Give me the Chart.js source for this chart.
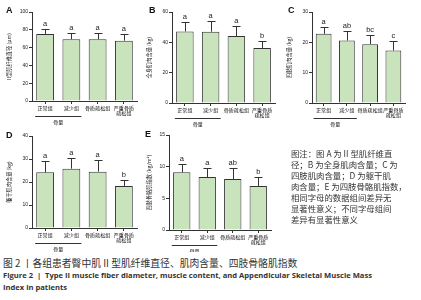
<!DOCTYPE html>
<html>
<head>
<meta charset="utf-8">
<script src="https://cdn.jsdelivr.net/npm/chart.js@4"></script>
<style>
  body { margin: 0; width: 421px; height: 300px; background: #fff; position: relative; overflow: hidden;
         font-family: 'Noto Sans CJK SC', sans-serif; color: #222; }
  canvas { position: absolute; }
  .tag { position: absolute; font: bold 9px 'Liberation Sans', Arial, sans-serif; color: #111; }
  .note { position: absolute; left: 291px; top: 148px; font-size: 8.4px; line-height: 11px; color: #333; white-space: nowrap; }
  .cap { position: absolute; left: 3px; white-space: nowrap; }
</style>
</head>
<body>
<canvas id="chartA"></canvas>
<canvas id="chartB"></canvas>
<canvas id="chartC"></canvas>
<canvas id="chartD"></canvas>
<canvas id="chartE"></canvas>

<div class="tag" style="left:6px;top:5px">A</div>
<div class="tag" style="left:149px;top:5px">B</div>
<div class="tag" style="left:288px;top:5px">C</div>
<div class="tag" style="left:6px;top:130px">D</div>
<div class="tag" style="left:145px;top:129px">E</div>

<div class="note">
  <div>图注：图 A 为 II 型肌纤维直</div>
  <div>径；B 为全身肌肉含量；C 为</div>
  <div>四肢肌肉含量；D 为躯干肌</div>
  <div>肉含量；E 为四肢骨骼肌指数，</div>
  <div>相同字母的数据组间差异无</div>
  <div>显著性意义；不同字母组间</div>
  <div>差异有显著性意义</div>
</div>

<div class="cap" style="top:256px;font-size:9.8px;color:#333">图 2 丨各组患者臀中肌 II 型肌纤维直径、肌肉含量、四肢骨骼肌指数</div>
<div class="cap" style="top:270px;font:bold 7.6px 'Open Sans',sans-serif;color:#333">Figure 2 &nbsp;|&nbsp; Type II muscle fiber diameter, muscle content, and Appendicular Skeletal Muscle Mass</div>
<div class="cap" style="top:282px;font:bold 7.6px 'Open Sans',sans-serif;color:#333">Index in patients</div>

<script>
// Groups (the first two share the "骨量" bracket underneath)
const groups = ['正常组', '减少组', '骨质疏松组', ['严重骨质', '疏松组']];

// A: type II muscle fiber diameter (μm)
const fiberMean = [75.3, 69.5, 69.5, 67.8];
const fiberSD = [5.5, 6.5, 6.5, 7.0];
const fiberLetters = ['a', 'a', 'a', 'a'];

// B: whole-body muscle content (kg)
const bodyMean = [47.2, 47.0, 44.2, 36.3];
const bodySD = [6.0, 7.0, 6.8, 4.3];
const bodyLetters = ['a', 'a', 'a', 'b'];

// C: limb muscle content (kg)
const limbMean = [22.8, 20.6, 19.4, 17.3];
const limbSD = [2.3, 3.1, 2.9, 3.0];
const limbLetters = ['a', 'ab', 'bc', 'c'];

// D: trunk muscle content (kg)
const trunkMean = [24.2, 25.8, 24.5, 18.3];
const trunkSD = [4.8, 4.5, 4.9, 2.5];
const trunkLetters = ['a', 'a', 'a', 'b'];

// E: appendicular skeletal muscle index (kg/m²)
const asmiMean = [9.1, 8.35, 8.05, 6.95];
const asmiSD = [1.3, 1.45, 1.7, 1.35];
const asmiLetters = ['a', 'a', 'ab', 'b'];

const BAR_FILL = '#c9e4bd';
const INK = '#333';

// Draws the upper error bar, significance letter and the "骨量" bracket
const errorBarPlugin = {
  id: 'errBars',
  afterDatasetsDraw(chart, args, opts) {
    const ctx = chart.ctx;
    const yScale = chart.scales.y;
    const bars = chart.getDatasetMeta(0).data;
    ctx.save();
    ctx.strokeStyle = INK;
    ctx.fillStyle = '#222';
    ctx.lineWidth = 1;
    ctx.textAlign = 'center';
    ctx.textBaseline = 'alphabetic';
    ctx.font = '7.5px "Liberation Sans", Arial, sans-serif';
    bars.forEach(function(bar, i) {
      const top = Math.round(yScale.getPixelForValue(opts.mean[i] + opts.sd[i])) + 0.5;
      const x = Math.round(bar.x) + 0.5;
      ctx.beginPath();
      ctx.moveTo(x, bar.y);
      ctx.lineTo(x, top);
      ctx.moveTo(x - 4, top);
      ctx.lineTo(x + 4, top);
      ctx.stroke();
      ctx.fillText(opts.letters[i], bar.x, top - 4);
    });

    // bracket under the first two groups
    const xScale = chart.scales.x;
    const x0 = xScale.getPixelForValue(0);
    const x1 = xScale.getPixelForValue(1);
    const yLine = Math.round(chart.chartArea.bottom + 15) + 0.5;
    ctx.beginPath();
    ctx.moveTo(x0 - 10, yLine);
    ctx.lineTo(x1 + 10, yLine);
    ctx.stroke();
    ctx.font = '5px "Noto Sans CJK SC", sans-serif';
    ctx.textBaseline = 'top';
    ctx.fillText('骨量', (x0 + x1) / 2, yLine + 3);
    ctx.restore();
  }
};

function makePanel(id, box, area, data, yMax, yStep, yTitle) {
  const canvas = document.getElementById(id);
  canvas.width = box.w;
  canvas.height = box.h;
  canvas.style.left = box.x + 'px';
  canvas.style.top = box.y + 'px';
  canvas.style.width = box.w + 'px';
  canvas.style.height = box.h + 'px';

  return new Chart(canvas.getContext('2d'), {
    type: 'bar',
    data: {
      labels: groups,
      datasets: [{
        data: data.mean,
        backgroundColor: BAR_FILL,
        borderColor: INK,
        borderWidth: 1,
        barPercentage: 0.68,
        categoryPercentage: 1
      }]
    },
    options: {
      responsive: false,
      animation: false,
      devicePixelRatio: 1,
      layout: { padding: { top: area.top, right: box.w - area.right, left: 0, bottom: 0 } },
      plugins: {
        legend: { display: false },
        tooltip: { enabled: false },
        errBars: data
      },
      scales: {
        x: {
          offset: true,
          grid: { drawOnChartArea: false, offset: false, tickLength: 3, color: INK },
          border: { color: INK, width: 1 },
          ticks: {
            color: '#111', padding: 1, maxRotation: 0, autoSkip: false,
            font: { family: '"Noto Sans CJK SC", sans-serif', size: 5, lineHeight: 1.1 }
          },
          afterFit: function(scale) { scale.height = box.h - area.bottom; }
        },
        y: {
          min: 0,
          max: yMax,
          grid: { drawOnChartArea: false, tickLength: 3, color: INK },
          border: { color: INK, width: 1 },
          ticks: {
            stepSize: yStep, color: '#222', padding: 1,
            font: { family: '"Liberation Sans", Arial, sans-serif', size: 5 }
          },
          title: {
            display: true, text: yTitle, color: '#222',
            padding: { top: 6, bottom: 0 },
            font: { family: '"Noto Sans CJK SC", sans-serif', size: 5.2 }
          },
          afterFit: function(scale) { scale.width = area.left; }
        }
      }
    },
    plugins: [errorBarPlugin]
  });
}

makePanel('chartA', { x: 0, y: 0, w: 142, h: 132 }, { left: 32, top: 12, right: 137, bottom: 101 },
  { mean: fiberMean, sd: fiberSD, letters: fiberLetters }, 100, 20, 'II型肌纤维直径 (μm)');

makePanel('chartB', { x: 140, y: 0, w: 142, h: 132 }, { left: 32, top: 12, right: 135, bottom: 103 },
  { mean: bodyMean, sd: bodySD, letters: bodyLetters }, 60, 20, '全身肌肉含量 (kg)');

makePanel('chartC', { x: 280, y: 0, w: 141, h: 132 }, { left: 32, top: 12, right: 125, bottom: 103 },
  { mean: limbMean, sd: limbSD, letters: limbLetters }, 30, 10, '四肢肌肉含量 (kg)');

makePanel('chartD', { x: 0, y: 120, w: 142, h: 132 }, { left: 32, top: 16, right: 137, bottom: 108 },
  { mean: trunkMean, sd: trunkSD, letters: trunkLetters }, 40, 10, '躯干肌肉含量 (kg)');

makePanel('chartE', { x: 140, y: 120, w: 142, h: 132 }, { left: 29, top: 15, right: 131, bottom: 110 },
  { mean: asmiMean, sd: asmiSD, letters: asmiLetters }, 15, 5, '四肢骨骼肌指数 (kg/m²)');
</script>
</body>
</html>
